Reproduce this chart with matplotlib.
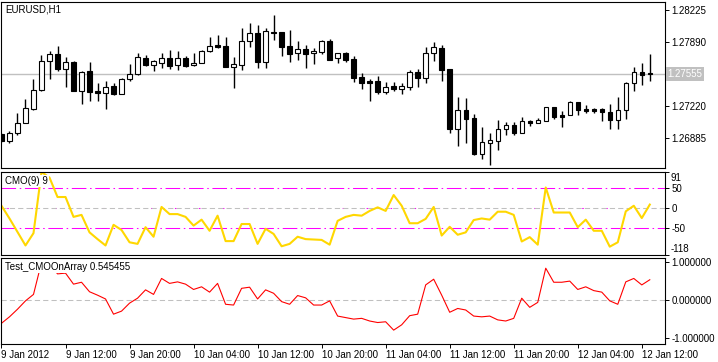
import numpy as np
import matplotlib.pyplot as plt

plt.rcParams['font.family'] = ['Liberation Sans', 'DejaVu Sans']
plt.rcParams['font.size'] = 7

# EURUSD H1, 82 bars from 9 Jan 04:00 to 12 Jan 13:00
opens = [1.26927, 1.26851, 1.26934, 1.27045, 1.27192, 1.27388, 1.27688, 1.27765, 1.27611, 1.27681,
         1.27380, 1.27584, 1.27380, 1.27353, 1.27430, 1.27346, 1.27500, 1.27555, 1.27723, 1.27646,
         1.27674, 1.27723, 1.27646, 1.27723, 1.27646, 1.27674, 1.27793, 1.27862, 1.27848, 1.27632,
         1.27653, 1.27898, 1.27988, 1.27681, 1.27995, 1.27995, 1.27848, 1.27772, 1.27814, 1.27772,
         1.27786, 1.27898, 1.27723, 1.27772, 1.27709, 1.27521, 1.27485, 1.27479, 1.27367, 1.27430,
         1.27401, 1.27422, 1.27576, 1.27513, 1.27772, 1.27827, 1.27611, 1.26983, 1.27178, 1.27095,
         1.26718, 1.26836, 1.26857, 1.26976, 1.27018, 1.26941, 1.27066, 1.27045, 1.27066, 1.27207,
         1.27129, 1.27123, 1.27262, 1.27186, 1.27186, 1.27186, 1.27157, 1.27074, 1.27178, 1.27458,
         1.27576, 1.27565]
highs = [1.26938, 1.26962, 1.27150, 1.27290, 1.27503, 1.27751, 1.27799, 1.27848, 1.27730, 1.27688,
         1.27590, 1.27681, 1.27458, 1.27485, 1.27458, 1.27513, 1.27660, 1.27772, 1.27751, 1.27702,
         1.27772, 1.27807, 1.27793, 1.27744, 1.27778, 1.27807, 1.27946, 1.27967, 1.27946, 1.27730,
         1.28037, 1.28086, 1.28071, 1.28037, 1.28176, 1.27995, 1.28016, 1.27898, 1.27862, 1.27827,
         1.27911, 1.27919, 1.27772, 1.27786, 1.27744, 1.27563, 1.27506, 1.27534, 1.27472, 1.27472,
         1.27458, 1.27597, 1.27611, 1.27835, 1.27890, 1.27862, 1.27611, 1.27311, 1.27304, 1.27136,
         1.27004, 1.26941, 1.27074, 1.27053, 1.27053, 1.27108, 1.27074, 1.27095, 1.27213, 1.27213,
         1.27165, 1.27276, 1.27262, 1.27228, 1.27199, 1.27199, 1.27241, 1.27311, 1.27472, 1.27625,
         1.27667, 1.27765]
lows = [1.26843, 1.26836, 1.26920, 1.27039, 1.27178, 1.27380, 1.27506, 1.27590, 1.27422, 1.27380,
        1.27241, 1.27269, 1.27269, 1.27192, 1.27339, 1.27346, 1.27485, 1.27548, 1.27639, 1.27590,
        1.27618, 1.27611, 1.27597, 1.27625, 1.27639, 1.27674, 1.27786, 1.27827, 1.27632, 1.27409,
        1.27597, 1.27841, 1.27618, 1.27618, 1.27911, 1.27744, 1.27681, 1.27702, 1.27618, 1.27660,
        1.27765, 1.27702, 1.27674, 1.27681, 1.27472, 1.27401, 1.27276, 1.27346, 1.27346, 1.27380,
        1.27346, 1.27388, 1.27416, 1.27458, 1.27694, 1.27485, 1.26941, 1.26801, 1.26836, 1.26710,
        1.26662, 1.26606, 1.26760, 1.26920, 1.26920, 1.26941, 1.27011, 1.27045, 1.27060, 1.27081,
        1.27004, 1.27123, 1.27129, 1.27144, 1.27150, 1.27066, 1.26983, 1.26983, 1.27081, 1.27374,
        1.27437, 1.27485]
closes = [1.26854, 1.26934, 1.27045, 1.27196, 1.27388, 1.27688, 1.27765, 1.27611, 1.27681, 1.27380,
          1.27576, 1.27367, 1.27353, 1.27416, 1.27346, 1.27500, 1.27555, 1.27730, 1.27646, 1.27688,
          1.27723, 1.27639, 1.27723, 1.27639, 1.27674, 1.27799, 1.27848, 1.27841, 1.27632, 1.27660,
          1.27898, 1.27981, 1.27681, 1.28002, 1.27988, 1.27841, 1.27765, 1.27814, 1.27765, 1.27793,
          1.27898, 1.27702, 1.27772, 1.27702, 1.27513, 1.27464, 1.27464, 1.27367, 1.27422, 1.27401,
          1.27430, 1.27576, 1.27513, 1.27772, 1.27835, 1.27597, 1.26983, 1.27178, 1.27087, 1.26718,
          1.26843, 1.26864, 1.26976, 1.27018, 1.26941, 1.27060, 1.27045, 1.27074, 1.27207, 1.27108,
          1.27108, 1.27262, 1.27178, 1.27165, 1.27165, 1.27157, 1.27074, 1.27178, 1.27458, 1.27576,
          1.27542, 1.27555]

# CMO(9)
cmo = [6, -26, -60, -94, -63, 91, 77, 28, 28, -22, -17, -61, -78, -94, -42, -55, -86, -90, -48, -72,
       3, -15, -15, -22, -44, -29, -57, -19, -83, -83, -40, -40, -90, -52, -65, -96, -90, -72, -78, -79,
       -80, -92, -32, -22, -17, -19, -7, 2, -7, 33, 6, -38, -38, -27, 3, -69, -47, -67, -61, -30,
       -26, -29, -9, -9, -17, -84, -73, -92, 52, -11, -11, -11, -48, -29, -57, -57, -97, -86, -8, 6,
       -25, 9]

# Test_CMOOnArray
cmo_arr = [-0.60, -0.43, -0.23, -0.01, 0.16, 1.0, 0.98, 0.70, 0.72, 0.43,
           0.48, 0.23, 0.14, 0.04, -0.36, -0.28, -0.07, 0.06, 0.28, 0.16,
           0.58, 0.45, 0.49, 0.43, 0.29, 0.36, 0.22, 0.45, -0.10, -0.12,
           0.32, 0.35, 0.04, 0.28, 0.19, -0.03, -0.10, 0.13, 0.07, -0.12,
           -0.12, -0.01, -0.41, -0.45, -0.49, -0.47, -0.54, -0.58, -0.56, -0.78,
           -0.64, -0.40, -0.36, 0.41, 0.56, 0.14, -0.31, -0.21, -0.25, -0.41,
           -0.43, -0.41, -0.51, -0.54, -0.47, 0.06, -0.18, -0.05, 0.85, 0.48,
           0.48, 0.51, 0.29, 0.36, 0.26, 0.22, -0.01, -0.10, 0.49, 0.58,
           0.41, 0.545455]

price_ticks = [1.26885, 1.27220, 1.27890, 1.28225]
price_labels = ['1.26885', '1.27220', '1.27890', '1.28225']
cmo_levels = [50, 0, -50]
x_tick_pos = [0, 8, 16, 24, 32, 40, 48, 56, 64, 72, 80]
x_tick_labels = ['9 Jan 2012', '9 Jan 12:00', '9 Jan 20:00', '10 Jan 04:00', '10 Jan 12:00',
                 '10 Jan 20:00', '11 Jan 04:00', '11 Jan 12:00', '11 Jan 20:00',
                 '12 Jan 04:00', '12 Jan 12:00']

o = np.array(opens); h = np.array(highs); l = np.array(lows); c = np.array(closes)
x = np.arange(len(o))

W, H = 718, 362
fig = plt.figure(figsize=(W / 100, H / 100), dpi=100)


def px_axes(x0, y0, x1, y1):
    return fig.add_axes([x0 / W, 1 - y1 / H, (x1 - x0) / W, (y1 - y0) / H])


ax1 = px_axes(1, 2, 665, 168)
ax2 = px_axes(1, 172, 665, 255)
ax3 = px_axes(1, 258, 665, 344)

for ax in (ax1, ax2, ax3):
    ax.set_xlim(-0.06, 82.9)
    for s in ax.spines.values():
        s.set_linewidth(0.8)
        s.set_color('black')
    ax.yaxis.tick_right()
    ax.tick_params(axis='y', direction='out', length=3, width=0.7, pad=1.5, labelsize=7)
    ax.tick_params(axis='x', bottom=False, labelbottom=False)

# --- price panel ---
ax1.set_ylim(1.26571, 1.28309)
ax1.axhline(c[-1], color='#C0C0C0', lw=1, zorder=1)
ax1.vlines(x, l, h, color='black', lw=1, zorder=2)
bear = c < o
body_lo = np.minimum(o, c)
body_h = np.maximum(np.abs(c - o), 0.000015)
ax1.bar(x, body_h, bottom=body_lo, width=0.55,
        color=np.where(bear, 'black', 'white'), edgecolor='black', linewidth=0.8, zorder=3)
ax1.set_yticks(price_ticks)
ax1.set_yticklabels(price_labels)
ax1.text(1.004, c[-1], '%.5f' % c[-1], transform=ax1.get_yaxis_transform(),
         ha='left', va='center', color='white', fontsize=7,
         bbox=dict(facecolor='#C0C0C0', edgecolor='none', pad=1.2))
ax1.annotate('EURUSD,H1', xy=(0, 1), xycoords='axes fraction', xytext=(3, -2),
             textcoords='offset points', ha='left', va='top', fontsize=7)

# --- CMO panel ---
ax2.set_ylim(-118, 91)
for lv in (50, -50):
    ax2.axhline(lv, color='#FF00FF', lw=0.75, linestyle=(0, (14, 3.5, 1.5, 3.5)), zorder=1)
ax2.axhline(0, color='#FF00FF', lw=0.75, linestyle=(17.5, (1.5, 21.5)), zorder=1)
ax2.axhline(0, color='#C0C0C0', lw=0.75, linestyle=(0, (5, 3)), zorder=1)
ax2.plot(x, cmo, color='#FFD700', lw=1.5, zorder=2)
ax2.set_yticks([91] + cmo_levels + [-118])
ax2.set_yticklabels(['', '50', '0', '-50', ''])
ax2.annotate('91', xy=(1, 91), xycoords=('axes fraction', 'data'), xytext=(4, -0.5),
             textcoords='offset points', ha='left', va='top', fontsize=7)
ax2.annotate('-118', xy=(1, -118), xycoords=('axes fraction', 'data'), xytext=(4, 0.5),
             textcoords='offset points', ha='left', va='bottom', fontsize=7)
ax2.annotate('CMO(9) %d' % cmo[-1], xy=(0, 1), xycoords='axes fraction', xytext=(3, -3),
             textcoords='offset points', ha='left', va='top', fontsize=7, zorder=5,
             bbox=dict(facecolor='white', edgecolor='none', pad=0.5))

# --- Test_CMOOnArray panel ---
ax3.set_ylim(-1.145, 1.118)
ax3.axhline(0, color='#C0C0C0', lw=0.75, linestyle=(0, (5, 3)), zorder=1)
ax3.plot(x, cmo_arr, color='red', lw=0.8, zorder=2)
ax3.set_yticks([1, 0, -1])
ax3.set_yticklabels(['1.000000', '0.000000', '-1.000000'])
ax3.annotate('Test_CMOOnArray %.6f' % cmo_arr[-1], xy=(0, 1), xycoords='axes fraction',
             xytext=(3, -3), textcoords='offset points', ha='left', va='top', fontsize=7,
             zorder=5, bbox=dict(facecolor='white', edgecolor='none', pad=0.5))

ax3.tick_params(axis='x', bottom=True, labelbottom=True, direction='out', length=3,
                width=0.7, pad=1.5, labelsize=7)
ax3.set_xticks(x_tick_pos)
ax3.set_xticklabels(x_tick_labels, ha='left')

fig.savefig('out.png', dpi=100)
